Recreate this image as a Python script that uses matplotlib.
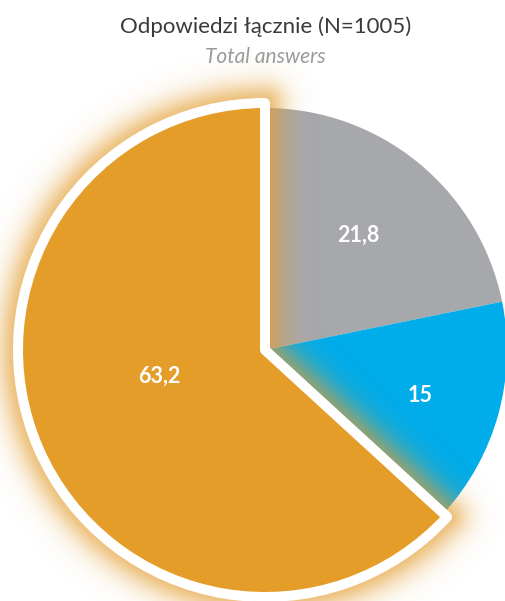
import numpy as np
import matplotlib
matplotlib.use("Agg")
import matplotlib.pyplot as plt
from matplotlib.patches import Wedge
from matplotlib.colors import to_rgb

plt.rcParams['font.family'] = ['Lato', 'DejaVu Sans']

# ---- data ----
categories = ['A', 'B', 'C']
values = [21.8, 15.0, 63.2]
value_labels = ['21,8', '15', '63,2']
colors = ['#A7A8AC', '#00ACEA', '#E39D28']
title = 'Odpowiedzi łącznie (N=1005)'
subtitle = 'Total answers'

W, H = 506, 601
fig = plt.figure(figsize=(W / 100, H / 100), dpi=100)
ax = fig.add_axes([0, 0, 1, 1])

cx, cy = 265, H - 350
R = 242
wedges, _ = ax.pie(values, colors=colors, startangle=90, counterclock=False,
                   radius=R, center=(cx, cy), frame=True,
                   wedgeprops=dict(linewidth=0))
ax.set_xlim(0, W)
ax.set_ylim(0, H)
ax.set_aspect('equal')
ax.axis('off')

# highlighted (largest) wedge
hi = wedges[2]
t1, t2 = hi.theta1, hi.theta2
Rh = R + 5
border = 5

# soft glow around the highlighted wedge (distance field)
xs = np.arange(W) + 0.5
ys = np.arange(H) + 0.5
X, Y = np.meshgrid(xs, ys)
dx, dy = X - cx, Y - cy
r = np.hypot(dx, dy)
ang = np.degrees(np.arctan2(dy, dx))
span = (t2 - t1) % 360
inside_ang = ((ang - t1) % 360) <= span
d_arc = np.where(inside_ang, np.abs(r - Rh), np.inf)
def seg_dist(theta):
    ux, uy = np.cos(np.radians(theta)), np.sin(np.radians(theta))
    t = np.clip(dx * ux + dy * uy, 0, Rh)
    return np.hypot(dx - t * ux, dy - t * uy)
d_edge = np.minimum(np.minimum(seg_dist(t1), seg_dist(t2)), d_arc)
inside = inside_ang & (r <= Rh)
dist = np.where(inside, 0, d_edge) - border
dist = np.clip(dist, 0, None)
alpha = 0.62 * np.exp(-(dist / 17.0) ** 1.5)
alpha[inside] = 0
rgb = np.array(to_rgb('#E39D30'))
img = np.zeros((H, W, 4))
img[..., :3] = rgb
img[..., 3] = alpha
ax.imshow(img, extent=(0, W, 0, H), origin='lower', zorder=3,
          interpolation='bilinear')
ax.set_xlim(0, W)
ax.set_ylim(0, H)

hi.set_visible(False)
main = Wedge((cx, cy), Rh, t1, t2, facecolor=colors[2], edgecolor='white',
             linewidth=2 * border * 0.72, joinstyle='round', zorder=4)
ax.add_patch(main)

# value labels
dists = [0.61, 0.67, 0.45]
ang_off = [0, -1, -10]
for w, lab, dd, ao in zip(wedges, value_labels, dists, ang_off):
    mid = np.deg2rad((w.theta1 + w.theta2) / 2 + ao)
    x = cx + dd * R * np.cos(mid)
    y = cy + dd * R * np.sin(mid)
    ax.text(x, y, lab, color='white', fontsize=15.5, fontweight='bold',
            ha='center', va='center', zorder=6)

fig.text(0.524, 1 - 27 / H, title, ha='center', va='center',
         fontsize=16, fontweight='normal', color='#3A3A3A')
fig.text(0.524, 1 - 57 / H, subtitle, ha='center', va='center',
         fontsize=15, fontweight='normal', style='italic', color='#9A9A9A')

fig.savefig('out.png', dpi=100)
